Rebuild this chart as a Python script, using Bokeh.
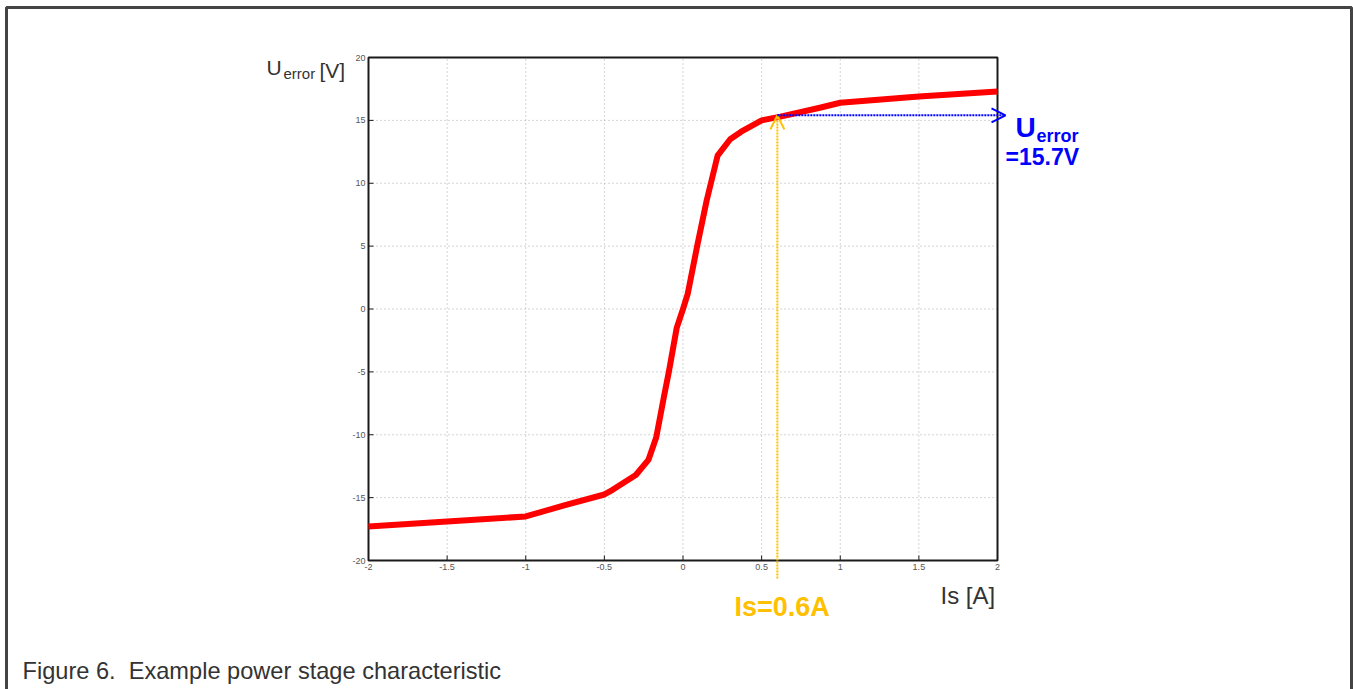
from bokeh.plotting import figure
from bokeh.models import Range1d, Label, Arrow, OpenHead
from bokeh.core.properties import value
from bokeh.embed import file_html
from bokeh.resources import INLINE

# ---- data ----
is_vals = [-2.0, -1.5, -1.0, -0.75, -0.5, -0.45, -0.3, -0.22, -0.17, -0.12, -0.09,
           -0.04, 0.0, 0.03, 0.09, 0.15, 0.22, 0.30, 0.37, 0.50, 0.62, 0.87, 1.0, 1.5, 2.0]
u_vals = [-17.3, -16.9, -16.5, -15.6, -14.75, -14.4, -13.2, -12.0, -10.2, -6.9, -5.0,
          -1.5, 0.0, 1.2, 5.0, 8.6, 12.2, 13.5, 14.1, 15.0, 15.3, 16.0, 16.4, 16.9, 17.3]
x_ticks = [-2, -1.5, -1, -0.5, 0, 0.5, 1, 1.5, 2]
y_ticks = [-20, -15, -10, -5, 0, 5, 10, 15, 20]
x_tick_labels = ["-2", "-1.5", "-1", "-0.5", "0", "0.5", "1", "1.5", "2"]
y_tick_labels = ["-20", "-15", "-10", "-5", "0", "5", "10", "15", "20"]
op_is = 0.6        # operating point current [A]
op_u = 15.4        # drawn level of the marker line
op_label_u = "=15.7V"
op_label_is = "Is=0.6A"
caption = "Figure 6.\u00a0 Example power stage characteristic"

X_LO, X_HI = x_ticks[0], x_ticks[-1]
Y_LO, Y_HI = y_ticks[0], y_ticks[-1]

W, H = 1353, 689
L, R, T, B = 368, 997, 57, 560   # axes box edges in pixels
KX = (X_HI - X_LO) / (R - L)     # data units per pixel
KY = (Y_HI - Y_LO) / (B - T)

def px2x(px):
    return X_LO + (px - L) * KX

def py2y(py):
    return Y_HI - (py - T) * KY

p = figure(width=W, height=H, output_backend="svg", toolbar_location=None,
           x_range=Range1d(px2x(0), px2x(W)), y_range=Range1d(py2y(H), py2y(0)),
           min_border=0, min_border_left=0, min_border_right=0,
           min_border_top=0, min_border_bottom=0)
p.xaxis.visible = False
p.yaxis.visible = False
p.xgrid.visible = False
p.ygrid.visible = False
p.outline_line_color = None
p.background_fill_color = "white"
p.border_fill_color = "white"

axis_col = "#1a1a1a"
grid_col = "#aaaaaa"
FONT = "Liberation Sans"

# grid (dotted)
inner_x = x_ticks[1:-1]
inner_y = y_ticks[1:-1]
p.segment(x0=inner_x, y0=[Y_LO] * len(inner_x), x1=inner_x, y1=[Y_HI] * len(inner_x),
          line_color=grid_col, line_dash="1 3", line_width=1)
p.segment(x0=[X_LO] * len(inner_y), y0=inner_y, x1=[X_HI] * len(inner_y), y1=inner_y,
          line_color=grid_col, line_dash="1 3", line_width=1)

# inward tick marks
tick_len = 5
p.segment(x0=x_ticks, y0=[Y_LO] * len(x_ticks), x1=x_ticks,
          y1=[Y_LO + tick_len * KY] * len(x_ticks), line_color=axis_col, line_width=1)
p.segment(x0=[X_LO] * len(y_ticks), y0=y_ticks, x1=[X_LO + tick_len * KX] * len(y_ticks),
          y1=y_ticks, line_color=axis_col, line_width=1)

# axes box
p.quad(left=[X_LO], right=[X_HI], bottom=[Y_LO], top=[Y_HI], fill_color=None,
       line_color=axis_col, line_width=2)

# tick labels
p.text(x=[X_LO] * len(y_ticks), y=y_ticks, text=y_tick_labels, x_offset=-3,
       text_align="right", text_baseline="middle", text_font_size="9px",
       text_color="#555555", text_font=value(FONT))
p.text(x=x_ticks, y=[Y_LO] * len(x_ticks), text=x_tick_labels, y_offset=3,
       text_align="center", text_baseline="top", text_font_size="9px",
       text_color="#555555", text_font=value(FONT))

# characteristic curve
p.line(is_vals, u_vals, line_color="#ff0000", line_width=6, line_join="round")

# operating point arrows
yellow = "#ffc000"
blue = "#0000ff"
p.add_layout(Arrow(x_start=op_is, y_start=py2y(578), x_end=op_is, y_end=op_u,
                   line_color=yellow, line_width=2, line_dash="2 1",
                   end=OpenHead(size=14, line_color=yellow, line_width=2)))
p.add_layout(Arrow(x_start=op_is, y_start=op_u, x_end=px2x(1005), y_end=op_u,
                   line_color=blue, line_width=2, line_dash="2 1",
                   end=OpenHead(size=14, line_color=blue, line_width=2)))

def lab(text, px, py, size, color, bold=False, font=FONT):
    p.add_layout(Label(x=px2x(px), y=py2y(py), text=text, text_font=font,
                       text_font_size=f"{size}px", text_color=color,
                       text_font_style="bold" if bold else "normal",
                       text_align="left", text_baseline="alphabetic"))

# y axis label U_error [V]
lab("U", 266, 67, 21, "#333333")
lab("error", 283, 73, 15, "#333333")
lab("[V]", 319, 70, 21, "#333333")
# x axis label
lab("Is [A]", 940, 595, 24, "#333333")
# operating point labels
lab(op_label_is, 734, 606, 27, yellow, bold=True)
lab("U", 1015, 127, 28, blue, bold=True)
lab("error", 1036, 135, 18, blue, bold=True)
lab(op_label_u, 1005, 156, 23, blue, bold=True)
# caption
lab(caption, 22, 670, 23.6, "#333333")

# outer figure frame
p.quad(left=[px2x(6)], right=[px2x(1351)], top=[py2y(7)], bottom=[py2y(720)],
       fill_color=None, line_color="#444444", line_width=3)

open("out.html", "w").write(file_html(p, INLINE))
